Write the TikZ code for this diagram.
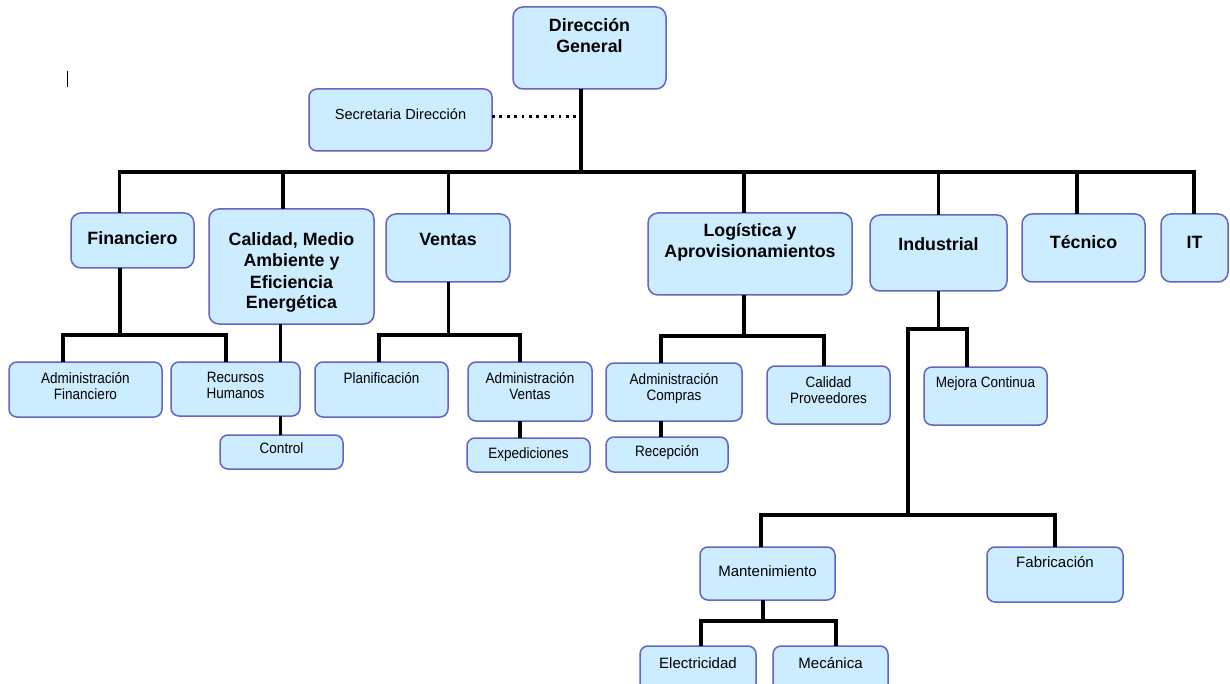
\documentclass[tikz,border=0pt]{standalone}
\usepackage{fontspec}
\setmainfont{Liberation Sans}
\newfontfamily\narrowf[FakeStretch=0.9]{Liberation Sans}
\definecolor{boxfill}{HTML}{CCECFF}
\definecolor{boxline}{HTML}{6464C4}
\newcommand{\tx}[2]{\raisebox{#1pt}[0pt][0pt]{\begin{tabular}[t]{@{}c@{}}#2\end{tabular}}}
\begin{document}
\begin{tikzpicture}[x=1pt,y=-1pt,
  box/.style={draw=boxline, fill=boxfill, line width=1.5pt, rounded corners=8pt, anchor=north west, inner sep=0pt, outer sep=0pt},
  big/.style={box, rounded corners=10pt, font=\bfseries\fontsize{17.8}{21}\selectfont},
  sm/.style={box, font=\narrowf\fontsize{15}{16}\selectfont},
  smw/.style={box, font=\fontsize{15}{16}\selectfont},
  conn/.style={line width=3.3pt, draw=black, line join=miter},
  dotline/.style={line width=3pt, draw=black, dash pattern=on 2.8pt off 4.6pt}]
\fill[white] (0,0) rectangle (1230,684);
\useasboundingbox (0,0) rectangle (1230,684);
% caret mark
\draw[line width=1pt] (67,71) -- (67,87);
% level 0
\node[big, minimum width=153pt, minimum height=82pt] (dg) at (513,7) {\tx{16}{Dirección\\General}};
\node[box, font=\fontsize{14.6}{16}\selectfont, minimum width=183pt, minimum height=62pt] (sec) at (309,89) {\tx{0}{Secretaria Dirección}};
% level 1
\node[big, minimum width=123pt, minimum height=55pt] (fin) at (71,213) {\tx{-4.5}{Financiero}};
\node[big, minimum width=165pt, minimum height=115pt] (cal) at (209,209) {\tx{20.5}{Calidad, Medio\\Ambiente y\\Eficiencia\\Energética}};
\node[big, minimum width=124pt, minimum height=68pt] (ven) at (386,214) {\tx{2}{Ventas}};
\node[big, minimum width=204pt, minimum height=82pt] (log) at (648,213) {\tx{17}{Logística y\\Aprovisionamientos}};
\node[big, minimum width=137pt, minimum height=76pt] (ind) at (870,215) {\tx{2}{Industrial}};
\node[big, minimum width=123pt, minimum height=68pt] (tec) at (1022,214) {\tx{-1}{Técnico}};
\node[big, minimum width=67pt, minimum height=68pt] (it) at (1161,214) {\tx{-1}{IT}};
% level 2
\node[sm, minimum width=153pt, minimum height=55pt] (af) at (9,362) {\tx{6.5}{Administración\\Financiero}};
\node[sm, minimum width=129pt, minimum height=54pt] (rh) at (171,362) {\tx{7}{Recursos\\Humanos}};
\node[sm, minimum width=123pt, minimum height=34pt] (ctl) at (220,435) {\tx{-1}{Control}};
\node[sm, minimum width=133pt, minimum height=55pt] (pl) at (315,362) {\tx{6.5}{Planificación}};
\node[sm, minimum width=124pt, minimum height=59pt] (av) at (468,362) {\tx{8.5}{Administración\\Ventas}};
\node[sm, minimum width=123pt, minimum height=34pt] (exp) at (467,438) {\tx{-3}{Expediciones}};
\node[sm, minimum width=136pt, minimum height=58pt] (ac) at (606,363) {\tx{8}{Administración\\Compras}};
\node[sm, minimum width=122pt, minimum height=35pt] (rec) at (606,437) {\tx{-1.5}{Recepción}};
\node[sm, minimum width=123pt, minimum height=58pt] (cp) at (767,366) {\tx{8}{Calidad\\Proveedores}};
\node[sm, minimum width=123pt, minimum height=58pt] (mc) at (924,367) {\tx{9}{Mejora Continua}};
% industrial subtree
\node[smw, minimum width=135pt, minimum height=53pt] (man) at (700,547) {\tx{-2.5}{Mantenimiento}};
\node[smw, minimum width=136pt, minimum height=55pt] (fab) at (987,547) {\tx{7.5}{Fabricación}};
\node[smw, minimum width=116pt, minimum height=46pt] (ele) at (640,646) {\tx{1}{Electricidad}};
\node[smw, minimum width=115pt, minimum height=46pt] (mec) at (773,646) {\tx{1}{Mecánica}};
% bus coordinates
\coordinate (bus) at (581,172);
\coordinate (d1) at (119.5,172);
\coordinate (d2) at (283,172);
\coordinate (d3) at (448.6,172);
\coordinate (d4) at (744,172);
\coordinate (d5) at (938.5,172);
\coordinate (d6) at (1077,172);
\coordinate (d7) at (1194,172);
\draw[conn] (bus |- dg.south) -- (bus);
\draw[dotline] ([yshift=3pt]sec.east) -- ([yshift=3pt,xshift=-1.5pt]sec.east -| bus);
\draw[conn] (d1 |- fin.north) -- (d1) -- (d7) -- (d7 |- it.north);
\draw[conn] (d2) -- (d2 |- cal.north);
\draw[conn] (d3) -- (d3 |- ven.north);
\draw[conn] (d4) -- (d4 |- log.north);
\draw[conn] (d5) -- (d5 |- ind.north);
\draw[conn] (d6) -- (d6 |- tec.north);
% Financiero
\coordinate (fa) at (63,335);
\coordinate (fb) at (226,335);
\coordinate (fm) at (120,335);
\draw[conn] (fa |- af.north) -- (fa) -- (fb) -- (fb |- rh.north);
\draw[conn] (fm |- fin.south) -- (fm);
% Calidad -> RRHH -> Control
\coordinate (cx) at (280.5,330);
\draw[conn] (cx |- cal.south) -- (cx |- rh.north);
\draw[conn] (cx |- rh.south) -- (cx |- ctl.north);
% Ventas
\coordinate (va) at (379,335);
\coordinate (vb) at (520,335);
\coordinate (vm) at (448.6,335);
\draw[conn] (va |- pl.north) -- (va) -- (vb) -- (vb |- av.north);
\draw[conn] (vm |- ven.south) -- (vm);
\draw[conn] (vb |- av.south) -- (vb |- exp.north);
% Logistica
\coordinate (la) at (661,336);
\coordinate (lb) at (824,336);
\coordinate (lm) at (744,336);
\draw[conn] (la |- ac.north) -- (la) -- (lb) -- (lb |- cp.north);
\draw[conn] (lm |- log.south) -- (lm);
\draw[conn] (la |- ac.south) -- (la |- rec.north);
% Industrial
\coordinate (ia) at (908,329);
\coordinate (ib) at (967,329);
\coordinate (im) at (938.5,329);
\coordinate (ilow) at (908,515);
\draw[conn] (ilow) -- (ia) -- (ib) -- (ib |- mc.north);
\draw[conn] (im |- ind.south) -- (im);
\coordinate (ma) at (761,515);
\coordinate (mb) at (1055,515);
\draw[conn] (ma |- man.north) -- (ma) -- (mb) -- (mb |- fab.north);
% Mantenimiento
\coordinate (ea) at (701,621);
\coordinate (eb) at (836,621);
\coordinate (em) at (763,621);
\draw[conn] (ea |- ele.north) -- (ea) -- (eb) -- (eb |- mec.north);
\draw[conn] (em |- man.south) -- (em);
\end{tikzpicture}
\end{document}
